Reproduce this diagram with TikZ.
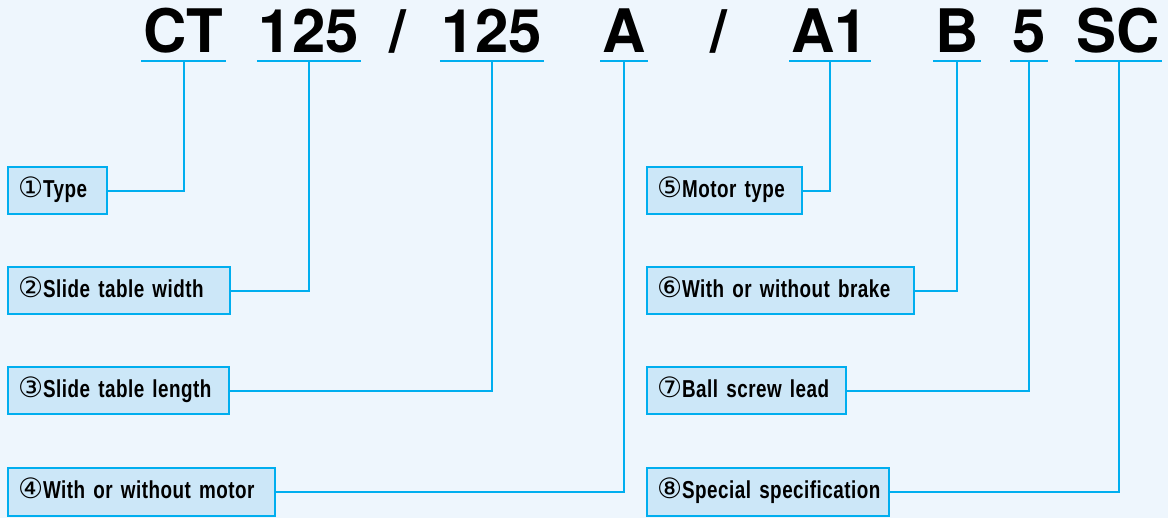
\documentclass[tikz,border=0pt]{standalone}
\usepackage{fontspec}
\newfontfamily\codefont{TeX Gyre Heros}
\newfontfamily\boxfont{Liberation Sans}[FakeStretch=0.77,WordSpace=2.9,LetterSpace=2]
\newfontfamily\circfont{DejaVu Sans}
\definecolor{bgblue}{RGB}{238,246,253}
\definecolor{boxblue}{RGB}{204,231,248}
\definecolor{lineblue}{RGB}{0,174,239}
\newcommand\circnum[1]{{\circfont\mdseries\fontsize{28}{28}\selectfont #1}}

\begin{document}
\begin{tikzpicture}[x=1pt,y=-1pt]
\tikzset{codepart/.style={font=\codefont\bfseries\fontsize{60}{60}\selectfont, anchor=base, inner xsep=2pt, inner ysep=8pt, text depth=0pt}}
\tikzset{tagbox/.style={draw=lineblue, fill=boxblue, line width=2pt, anchor=west, minimum height=47pt, inner xsep=10pt, align=left, text width=#1, text height=19pt, text depth=5pt, font=\boxfont\bfseries\fontsize{24.5}{27}\selectfont}}
\tikzset{leader/.style={draw=lineblue, line width=2pt}}
\path[use as bounding box, fill=bgblue] (0,0) rectangle (1168,518);

\node[codepart] (ct) at (183.5,53) {CT};
\node[codepart] (width) at (309,53) {125};
\node[codepart] (slashA) at (398,53) {/};
\node[codepart] (length) at (492,53) {125};
\node[codepart] (motor) at (624,53) {A};
\node[codepart] (slashB) at (719,53) {/};
\node[codepart] (mtype) at (830,53) {A1};
\node[codepart] (brake) at (957,53) {B};
\node[codepart] (lead) at (1029,53) {5};
\node[codepart] (spec) at (1118.5,53) {SC};
\foreach \p in {ct,width,length,motor,mtype,brake,lead,spec}
    \draw[leader] (\p.south west) -- (\p.south east);

\node[tagbox=79pt] (type) at (7,191) {\mbox{\circnum{①}Type}};
\node[tagbox=202pt] (twidth) at (7,291) {\mbox{\circnum{②}Slide table width}};
\node[tagbox=201pt] (tlength) at (7,391) {\mbox{\circnum{③}Slide table length}};
\node[tagbox=247pt] (tmotor) at (7,492) {\mbox{\circnum{④}With or without motor}};
\node[tagbox=135pt] (ttype) at (646,191) {\mbox{\circnum{⑤}Motor type}};
\node[tagbox=247pt] (tbrake) at (646,291) {\mbox{\circnum{⑥}With or without brake}};
\node[tagbox=179pt] (tlead) at (646,391) {\mbox{\circnum{⑦}Ball screw lead}};
\node[tagbox=222pt] (tspec) at (646,492) {\mbox{\circnum{⑧}Special specification}};

\draw[leader] (type.east) -| (ct.south);
\draw[leader] (twidth.east) -| (width.south);
\draw[leader] (tlength.east) -| (length.south);
\draw[leader] (tmotor.east) -| (motor.south);
\draw[leader] (ttype.east) -| (mtype.south);
\draw[leader] (tbrake.east) -| (brake.south);
\draw[leader] (tlead.east) -| (lead.south);
\draw[leader] (tspec.east) -| (spec.south);
\end{tikzpicture}
\end{document}
